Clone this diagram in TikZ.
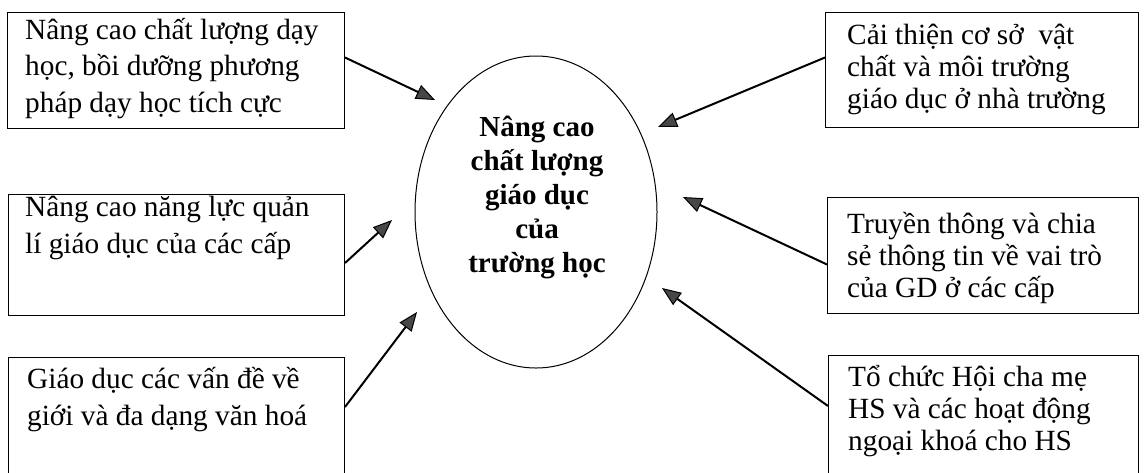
\documentclass[tikz,border=0pt]{standalone}
\usepackage{fontspec}
\setmainfont{Liberation Serif}
\usetikzlibrary{arrows.meta,shapes.geometric}
\begin{document}
\begin{tikzpicture}[x=1pt,y=-1pt,
  box/.style={draw,line width=1pt,rectangle,inner sep=0pt,anchor=north west},
  ltxt/.style={anchor=base west,align=left,inner sep=0pt,font=\fontsize{29.3}{36.5}\selectfont},
  rtxt/.style={anchor=base west,align=left,inner sep=0pt,font=\fontsize{29.3}{32}\selectfont},
  ctxt/.style={anchor=base,align=center,inner sep=0pt,font=\fontsize{29}{33.8}\selectfont\bfseries},
  conn/.style={line width=2pt,-{Triangle[length=19pt,width=15pt,fill=black!72,line width=1pt]}}]
\useasboundingbox (0,0) rectangle (1145,472);
\clip (0,0) rectangle (1145,472);
% boxes
\node[box,minimum width=337pt,minimum height=116pt] (b1) at (7,12) {};
\node[box,minimum width=336pt,minimum height=121pt] (b2) at (8,194) {};
\node[box,minimum width=336pt,minimum height=160pt] (b3) at (8,357) {};
\node[box,minimum width=313pt,minimum height=115pt] (b4) at (825,12) {};
\node[box,minimum width=311pt,minimum height=116pt] (b5) at (827,197) {};
\node[box,minimum width=310pt,minimum height=160pt] (b6) at (828,355) {};
% texts (anchored at the baseline of their last line)
\node[ltxt] (t1) at (25,112) {Nâng cao chất lượng dạy\\học, bồi dưỡng phương\\pháp dạy học tích cực};
\node[ltxt] (t2) at (25,253) {Nâng cao năng lực quản\\lí giáo dục của các cấp};
\node[ltxt] (t3) at (27,425) {Giáo dục các vấn đề về\\giới và đa dạng văn hoá};
\node[rtxt] (t4) at (847,108) {Cải thiện cơ sở\ \ vật\\chất và môi trường\\giáo dục ở nhà trường};
\node[rtxt] (t5) at (847,297) {Truyền thông và chia\\sẻ thông tin về vai trò\\của GD ở các cấp};
\node[rtxt] (t6) at (848,450) {Tổ chức Hội cha mẹ\\HS và các hoạt động\\ngoại khoá cho HS};
% centre
\node[draw,ellipse,line width=1pt,inner sep=0pt,minimum width=242pt,minimum height=312pt] (e) at (536,212) {};
\node[ctxt] (et) at (537,272) {Nâng cao\\chất lượng\\giáo dục\\của\\trường học};
% arrow tips
\coordinate (p1) at (435,100);
\coordinate (p2) at (392,220);
\coordinate (p3) at (417,312);
\coordinate (p4) at (658,127);
\coordinate (p5) at (683,197);
\coordinate (p6) at (662,288);
% connectors
\draw[conn] ([yshift=13pt]b1.east) -- (p1);
\draw[conn] ([yshift=-8pt]b2.east) -- (p2);
\draw[conn] ([yshift=-50pt]b3.north east) -- (p3);
\draw[conn] ([yshift=12.5pt]b4.west) -- (p4);
\draw[conn] ([yshift=-9pt]b5.west) -- (p5);
\draw[conn] ([yshift=-51pt]b6.north west) -- (p6);
\end{tikzpicture}
\end{document}
